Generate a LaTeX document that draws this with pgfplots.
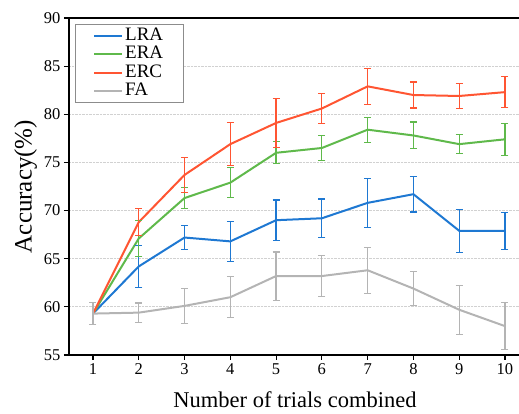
\documentclass[border=0pt]{standalone}
\usepackage{pgfplots}
\pgfplotsset{compat=1.18}
\usepackage{fontspec}
\setmainfont{Liberation Serif}
\definecolor{lra}{RGB}{30,120,210}
\definecolor{era}{RGB}{95,185,75}
\definecolor{erc}{RGB}{255,85,50}
\definecolor{fa}{RGB}{180,180,180}
\pgfplotsset{
  errstyle/.style={forget plot, draw=none, mark=none,
    error bars/y dir=both, error bars/y explicit,
    error bars/error bar style={draw=#1, line width=1.2pt},
    error bars/error mark options={draw=#1, rotate=90, mark size=3.5pt, line width=1.1pt}},
}
\begin{document}
\begin{tikzpicture}
\begin{axis}[
  scale only axis,
  width=452pt, height=337pt,
  xmin=0.476, xmax=10.35,
  ymin=55, ymax=90,
  xtick={1,2,3,4,5,6,7,8,9,10},
  ytick={55,60,65,70,75,80,85,90},
  tick pos=left,
  tick align=outside,
  major tick length=5pt,
  axis line style={line width=1.3pt},
  tick style={black, line width=1.1pt},
  ymajorgrids,
  major grid style={densely dotted, line width=0.8pt, black!18},
  /pgf/number format/assume math mode=true,
  ticklabel style={font=\fontsize{16.5}{18}\selectfont},
  xlabel={Number of trials combined},
  ylabel={Accuracy(\%)},
  xlabel style={font=\fontsize{22.5}{26}\selectfont, yshift=-10pt},
  ylabel style={font=\fontsize{25}{28}\selectfont},
  legend style={at={(0.0133,0.982)}, anchor=north west, draw=black!45, line width=0.8pt,
    font=\fontsize{19}{20}\selectfont, inner xsep=18pt, inner ysep=2pt, row sep=0pt,
    nodes={text height=13pt, text depth=3.5pt, inner xsep=2pt, inner ysep=1pt}},
  legend cell align=left,
  legend image code/.code={\draw[#1, line width=1.8pt] (0pt,0pt) -- (28pt,0pt);},
]
% main lines
\addplot[lra, line width=2pt] table[x=x, y=y] {
x y
1 59.3
2 64.2
3 67.2
4 66.8
5 69.0
6 69.2
7 70.8
8 71.7
9 67.9
10 67.9
};
\addlegendentry{LRA}
\addplot[era, line width=2pt] table[x=x, y=y] {
x y
1 59.3
2 67.1
3 71.3
4 72.9
5 76.0
6 76.5
7 78.4
8 77.8
9 76.9
10 77.4
};
\addlegendentry{ERA}
\addplot[erc, line width=2pt] table[x=x, y=y] {
x y
1 59.3
2 68.8
3 73.7
4 76.9
5 79.1
6 80.6
7 82.9
8 82.0
9 81.9
10 82.3
};
\addlegendentry{ERC}
\addplot[fa, line width=2pt] table[x=x, y=y] {
x y
1 59.3
2 59.4
3 60.1
4 61.0
5 63.2
6 63.2
7 63.8
8 61.9
9 59.7
10 58.0
};
\addlegendentry{FA}
% error bars
\addplot[errstyle=lra] table[x=x, y=y, y error=e] {
x y e
2 64.2 2.2
3 67.2 1.25
4 66.8 2.05
5 69.0 2.1
6 69.2 2.0
7 70.8 2.55
8 71.7 1.85
9 67.9 2.25
10 67.9 1.9
};
\addplot[errstyle=era] table[x=x, y=y, y error=e] {
x y e
2 67.1 1.9
3 71.3 1.1
4 72.9 1.55
5 76.0 1.15
6 76.5 1.28
7 78.4 1.3
8 77.8 1.4
9 76.9 1.0
10 77.4 1.67
};
\addplot[errstyle=erc] table[x=x, y=y, y error=e] {
x y e
2 68.8 1.43
3 73.7 1.8
4 76.9 2.2
5 79.1 2.55
6 80.6 1.6
7 82.9 1.9
8 82.0 1.35
9 81.9 1.28
10 82.3 1.6
};
\addplot[errstyle=fa] table[x=x, y=y, y error=e] {
x y e
1 59.3 1.15
2 59.4 1.0
3 60.1 1.8
4 61.0 2.15
5 63.2 2.5
6 63.2 2.1
7 63.8 2.4
8 61.9 1.75
9 59.7 2.55
10 58.0 2.45
};
\end{axis}
\pgfresetboundingbox
\path[use as bounding box] ([shift={(-69pt,-59pt)}]current axis.south west) rectangle ([shift={(-2pt,18pt)}]current axis.north east);
\end{tikzpicture}
\end{document}
